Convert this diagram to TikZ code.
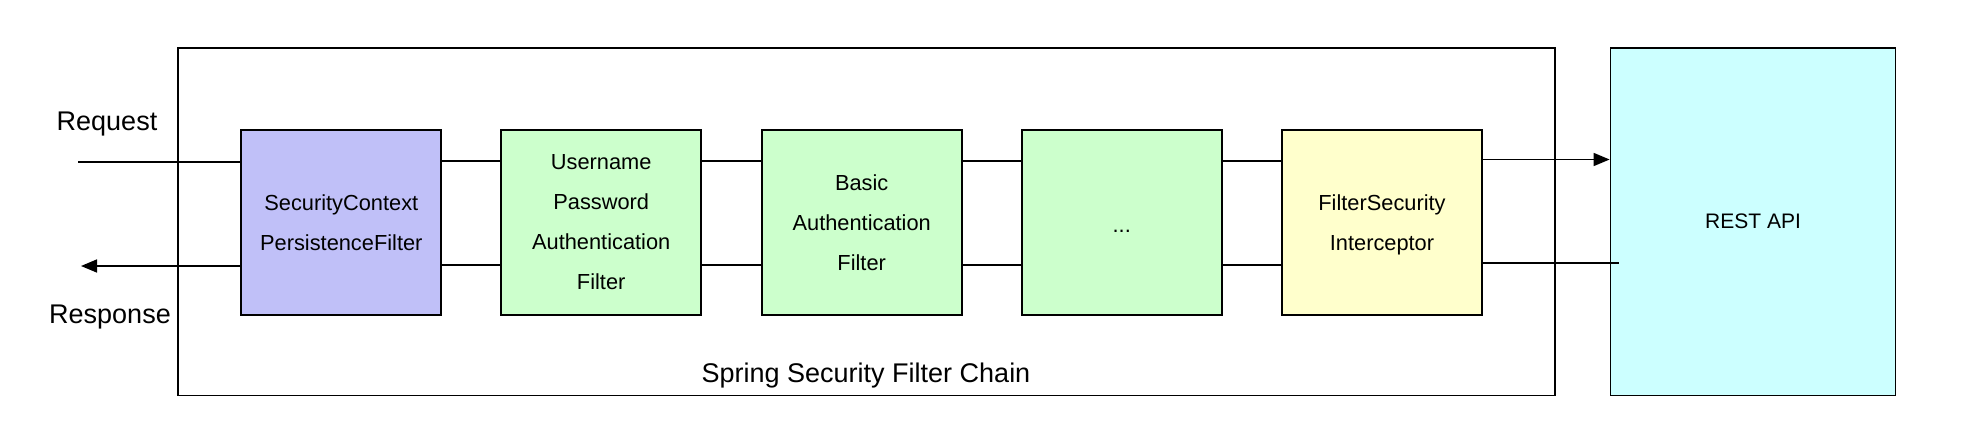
\documentclass[tikz,border=0pt]{standalone}
\usepackage{fontspec}
\setmainfont{Liberation Sans}
\usetikzlibrary{arrows.meta}
\definecolor{lav}{HTML}{C0C0F8}
\definecolor{lgreen}{HTML}{CCFFCC}
\definecolor{lyellow}{HTML}{FFFFCC}
\definecolor{lcyan}{HTML}{CCFFFF}
\tikzset{
  filterbox/.style={draw=black, line width=1.8pt, minimum width=200pt, minimum height=185pt,
    align=center, inner sep=0pt, font=\fontsize{21.8}{40}\selectfont},
  link/.style={line width=1.6pt},
  arr/.style={line width=1.6pt, -{Triangle[length=16pt,width=13pt]}},
  lbl/.style={font=\fontsize{27}{32}\selectfont, inner sep=0pt}
}
\begin{document}
\begin{tikzpicture}[x=1pt,y=-1pt]
\useasboundingbox (0,0) rectangle (1980,444);
% outer chain frame
\node[draw=black, line width=1.8pt, minimum width=1377pt, minimum height=347.5pt, inner sep=0pt] (chain) at (866.2,221.7) {};
\node[lbl] (chainlbl) at (866,375.5) {Spring Security Filter Chain};
% REST API
\node[draw=black, fill=lcyan, line width=1.8pt, minimum width=285pt, minimum height=347.5pt, inner sep=0pt,
  font=\fontsize{21}{24}\selectfont] (rest) at (1753,221.7) {REST API};
% filters
\node[filterbox, fill=lav] (f1) at (341.3,222.5) {SecurityContext\\PersistenceFilter};
\node[filterbox, fill=lgreen] (f2) at (601.2,222.5) {Username\\Password\\Authentication\\Filter};
\node[filterbox, fill=lgreen] (f3) at (861.7,222.5) {Basic\\Authentication\\Filter};
\node[filterbox, fill=lgreen] (f4) at (1121.7,222.5) {\rule{0pt}{19pt}...};
\node[filterbox, fill=lyellow] (f5) at (1382,222.5) {FilterSecurity\\\smash{Interceptor}};
% labels
\node[lbl] (req) at (107,124) {Request};
\node[lbl] (resp) at (110,317) {Response};
% endpoints
\coordinate (reqstart) at (78,162);
\coordinate (respend) at (81,266);
\coordinate (restout) at (1618.5,263);
% request path
\draw[link] (reqstart) -- (reqstart -| f1.west);
\draw[link] ([yshift=61.5pt]f1.east) -- ([yshift=61.5pt]f2.west);
\draw[link] ([yshift=61.5pt]f2.east) -- ([yshift=61.5pt]f3.west);
\draw[link] ([yshift=61.5pt]f3.east) -- ([yshift=61.5pt]f4.west);
\draw[link] ([yshift=61.5pt]f4.east) -- ([yshift=61.5pt]f5.west);
\draw[arr] ([yshift=63pt]f5.east) -- ([yshift=63pt]f5.east -| rest.west);
% response path
\draw[link] (restout) -- (restout -| f5.east);
\draw[link] ([yshift=-42.5pt]f5.west) -- ([yshift=-42.5pt]f4.east);
\draw[link] ([yshift=-42.5pt]f4.west) -- ([yshift=-42.5pt]f3.east);
\draw[link] ([yshift=-42.5pt]f3.west) -- ([yshift=-42.5pt]f2.east);
\draw[link] ([yshift=-42.5pt]f2.west) -- ([yshift=-42.5pt]f1.east);
\draw[arr] (respend -| f1.west) -- (respend);
\end{tikzpicture}
\end{document}
